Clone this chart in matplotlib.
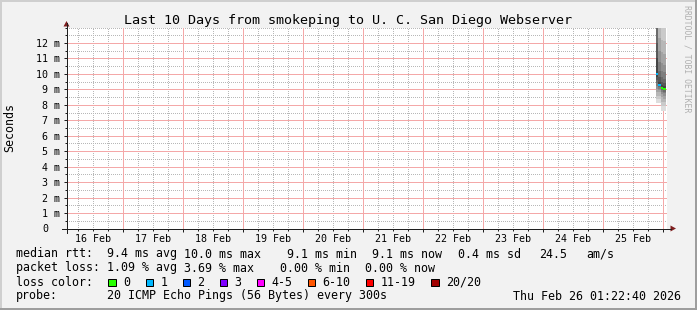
import matplotlib
matplotlib.use("Agg")
import matplotlib.pyplot as plt
import matplotlib.dates as mdates
from matplotlib.patches import Rectangle, Polygon
from matplotlib.lines import Line2D
from matplotlib.transforms import IdentityTransform, ScaledTranslation
import pandas as pd

# ---------------- data ----------------
title = "Last 10 Days from smokeping to U. C. San Diego Webserver"
y_axis_label = "Seconds"
watermark = "RRDTOOL / TOBI OETIKER"
start_time = "2026-02-16 01:22:40"
end_time = "2026-02-26 01:22:40"
day_labels = ["16 Feb", "17 Feb", "18 Feb", "19 Feb", "20 Feb",
              "21 Feb", "22 Feb", "23 Feb", "24 Feb", "25 Feb"]
day_label_dates = ["2026-02-16 12:00", "2026-02-17 12:00", "2026-02-18 12:00",
                   "2026-02-19 12:00", "2026-02-20 12:00", "2026-02-21 12:00",
                   "2026-02-22 12:00", "2026-02-23 12:00", "2026-02-24 12:00",
                   "2026-02-25 12:00"]
y_ticks = [0, 1, 2, 3, 4, 5, 6, 7, 8, 9, 10, 11, 12]
y_tick_labels = ["0", "1 m", "2 m", "3 m", "4 m", "5 m", "6 m", "7 m",
                 "8 m", "9 m", "10 m", "11 m", "12 m"]
y_max = 13

# hourly consolidated slots (ms), 20 sorted pings each
slot_starts = ["2026-02-25 21:00", "2026-02-25 22:00",
               "2026-02-25 23:00", "2026-02-26 00:00"]
pings_1 = [8.1, 8.4, 8.6, 8.8, 9.0, 9.2, 9.4, 9.6, 9.8, 9.95,
           10.05, 11.0, 12.0, 13.5, 15.0, 17.0, 19.0, 22.0, 26.0, 30.0]
pings_2 = [8.1, 8.4, 8.6, 8.8, 8.95, 9.05, 9.15, 9.2, 9.25, 9.28,
           9.32, 9.5, 9.8, 10.2, 10.8, 11.5, 12.3, 13.2, 14.5, 17.0]
pings_3 = [7.6, 7.9, 8.2, 8.5, 8.7, 8.85, 8.95, 9.0, 9.05, 9.08,
           9.12, 9.3, 9.5, 9.8, 10.2, 10.7, 11.4, 12.2, 13.3, 15.0]
pings_4 = [7.6, 7.9, 8.2, 8.4, 8.6, 8.75, 8.85, 8.95, 9.0, 9.03,
           9.07, 9.2, 9.4, 9.7, 10.1, 10.6, 11.3, 12.1, 13.4, 16.0]
slot_pings = [pings_1, pings_2, pings_3, pings_4]
slot_median = [10.0, 9.3, 9.1, 9.05]
slot_loss = [1, 1, 0, 0]

loss_labels = ["0", "1", "2", "3", "4-5", "6-10", "11-19", "20/20"]
loss_upper = [0, 1, 2, 3, 5, 10, 19, 20]
loss_colors = ["#26ff00", "#00b8ff", "#0059ff", "#7e00ff",
               "#ff00ff", "#ff5500", "#ff0000", "#a10000"]

rtt_names = ["avg", "max", "min", "now", "sd"]
rtt_values = [9.4, 10.0, 9.1, 9.1, 0.4]
am_s_value = 24.5
loss_names = ["avg", "max", "min", "now"]
loss_values = [1.09, 3.69, 0.00, 0.00]
probe_text = "20 ICMP Echo Pings (56 Bytes) every 300s"
stamp_text = "Thu Feb 26 01:22:40 2026"

# ---------------- figure ----------------
W, H = 697, 310
MONO = "DejaVu Sans Mono"
plt.rcParams["font.family"] = MONO
fig = plt.figure(figsize=(W / 100, H / 100), dpi=100, facecolor="#f2f2f2")
PX = IdentityTransform()


def py(y_img):
    return H - y_img


# 3D border
fig.patches.append(Rectangle((0, H - 2), W, 2, transform=PX, color="#cfcfcf", lw=0))
fig.patches.append(Rectangle((0, 0), 2, H, transform=PX, color="#cfcfcf", lw=0))
fig.patches.append(Rectangle((0, 0), W, 2, transform=PX, color="#9e9e9e", lw=0))
fig.patches.append(Rectangle((W - 2, 0), 2, H, transform=PX, color="#9e9e9e", lw=0))

L, B, PW, PH = 66.5, 81.5, 600, 201
ax = fig.add_axes([L / W, B / H, PW / W, PH / H], facecolor="white")
for s in ax.spines.values():
    s.set_visible(False)

t0 = mdates.date2num(pd.Timestamp(start_time))
t1 = mdates.date2num(pd.Timestamp(end_time))
ax.set_xlim(t0, t1)
ax.set_ylim(0, y_max)

midnights = pd.date_range(pd.Timestamp(start_time).ceil("D"), end_time, freq="D")
six_hours = pd.date_range(pd.Timestamp(start_time).ceil("6h"), end_time, freq="6h")
six_hours = six_hours[six_hours.hour != 0]
ax.set_xticks(mdates.date2num(midnights))
ax.set_xticks(mdates.date2num(six_hours), minor=True)
ax.set_xticklabels([])
ax.set_yticks(y_ticks)
ax.set_yticks([v + 0.5 for v in range(y_max)] + [y_max], minor=True)
ax.set_yticklabels(y_tick_labels, fontsize=7.2, family=MONO)

ax.tick_params(which="major", length=2.3, width=0.72, color="#1f1f1f", direction="out", pad=2.4)
ax.tick_params(which="minor", length=1.2, width=0.72, color="#1f1f1f", direction="out")
ax.grid(False)

# grid lines: minor gray dotted, major (integer ms / midnight) pale red
dot = (0.5, (1, 1))
for v in ax.get_yticks(minor=True):
    ax.axhline(v, color="#b8b8b8", linestyle=dot, linewidth=0.72, zorder=1)
for v in ax.get_xticks(minor=True):
    ax.axvline(v, color="#b8b8b8", linestyle=dot, linewidth=0.72, zorder=1)
for v in y_ticks[1:]:
    ax.axhline(v, color="#f4a8a8", linestyle="-", linewidth=0.72, zorder=1.5)
for v in mdates.date2num(midnights):
    ax.axvline(v, color="#f4a8a8", linestyle="-", linewidth=0.72, zorder=1.5)

# shift zero label
zero_lbl = ax.get_yticklabels()[0]
zero_lbl.set_transform(zero_lbl.get_transform() + ScaledTranslation(-12 / 100, 0, fig.dpi_scale_trans))

# x labels at noon
xtrans = ax.get_xaxis_transform() + ScaledTranslation(0, -13 / 100, fig.dpi_scale_trans)
for lbl, d in zip(day_labels, day_label_dates):
    ax.text(mdates.date2num(pd.Timestamp(d)), 0, lbl, transform=xtrans,
            ha="center", va="baseline", fontsize=7.2, family=MONO)

# smoke
xs = mdates.date2num(pd.to_datetime(slot_starts))
width = 1 / 24
n = 20
half = n / 2
for x, p in zip(xs, slot_pings):
    for i in range(n // 2):
        g = int(190 / half * (half - (i + 1))) + 50
        col = "#%02x%02x%02x" % (g, g, g)
        ax.bar(x, p[n - 1 - i] - p[i], bottom=p[i], width=width, align="edge",
               color=col, linewidth=0, zorder=3)

# median lines colored by loss
for x, m, lc in zip(xs, slot_median, slot_loss):
    idx = next(k for k, u in enumerate(loss_upper) if lc <= u)
    ax.hlines(m, x, x + width, colors=loss_colors[idx], linewidth=1.44, zorder=4)

# axes lines and arrows
axis_col = "#1f1f1f"
arrow_col = "#801f1f"
fig.lines.append(Line2D([62, 671], [B, B], transform=PX, color=axis_col, lw=0.72))
fig.lines.append(Line2D([L, L], [B - 4, py(23)], transform=PX, color=axis_col, lw=0.72))
fig.patches.append(Polygon([[L - 3, py(26.5)], [L + 3, py(26.5)], [L, py(21)]],
                           closed=True, transform=PX, color=arrow_col, lw=0))
fig.patches.append(Polygon([[670.5, B - 3], [670.5, B + 3], [676, B]],
                           closed=True, transform=PX, color=arrow_col, lw=0))

# titles
fig.text(347.5, py(24), title, transform=PX, ha="center", va="baseline",
         fontsize=9.6, family=MONO)
fig.text(10, py(127), y_axis_label, transform=PX, ha="center", va="center",
         rotation=90, fontsize=8.4, family=MONO)
fig.text(687, py(59), watermark, transform=PX, ha="center", va="center",
         rotation=270, fontsize=5.9, family=MONO, color="#b0b0b0")

# legend
FS = 8.4
rows = [257.5, 271.5, 285.5, 299.5]
item_x = [16, 184, 280, 365, 451]
fig.text(item_x[0], py(rows[0]), "median rtt:  %.1f ms %s" % (rtt_values[0], rtt_names[0]),
         transform=PX, ha="left", va="baseline", fontsize=FS, family=MONO)
for xx, v, nme in zip(item_x[1:], rtt_values[1:], rtt_names[1:]):
    fig.text(xx, py(rows[0]), "%4.1f ms %s" % (v, nme), transform=PX,
             ha="left", va="baseline", fontsize=FS, family=MONO)
fig.text(539, py(rows[0]), "%.1f" % am_s_value, transform=PX, ha="left",
         va="baseline", fontsize=FS, family=MONO)
fig.text(586, py(rows[0]), "am/s", transform=PX, ha="left", va="baseline",
         fontsize=FS, family=MONO)

fig.text(item_x[0], py(rows[1]), "packet loss: %.2f %% %s" % (loss_values[0], loss_names[0]),
         transform=PX, ha="left", va="baseline", fontsize=FS, family=MONO)
for xx, v, nme in zip(item_x[1:], loss_values[1:], loss_names[1:]):
    fig.text(xx, py(rows[1]), "%.2f %% %s" % (v, nme), transform=PX,
             ha="left", va="baseline", fontsize=FS, family=MONO)

fig.text(16, py(rows[2]), "loss color:", transform=PX, ha="left", va="baseline",
         fontsize=FS, family=MONO)
box_x = [108, 145.5, 182.5, 219.5, 256.5, 307.5, 365.5, 431]
for bx, lbl, c in zip(box_x, loss_labels, loss_colors):
    fig.patches.append(Rectangle((bx, py(286)), 7.5, 7.5, transform=PX,
                                 facecolor=c, edgecolor="black", lw=0.72))
    fig.text(bx + 15, py(rows[2]), lbl, transform=PX, ha="left", va="baseline",
             fontsize=FS, family=MONO)

fig.text(16, py(rows[3]), "probe:", transform=PX, ha="left", va="baseline",
         fontsize=FS, family=MONO)
fig.text(107, py(rows[3]), probe_text, transform=PX, ha="left", va="baseline",
         fontsize=FS, family=MONO)
fig.text(513, py(rows[3]), stamp_text, transform=PX, ha="left", va="baseline",
         fontsize=FS, family=MONO)

fig.savefig("out.png", dpi=100, facecolor=fig.get_facecolor())
